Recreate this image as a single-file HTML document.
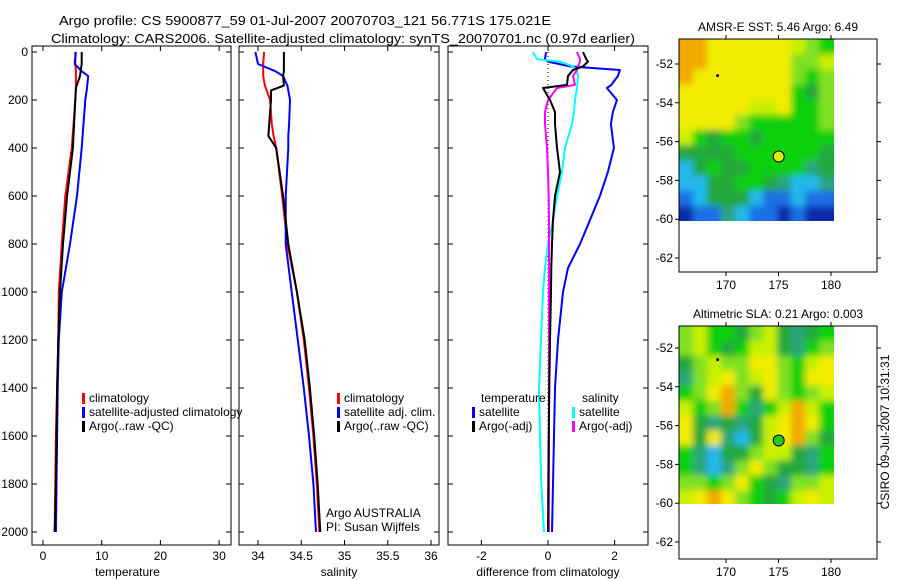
<!DOCTYPE html>
<html><head><meta charset="utf-8"><style>
html,body{margin:0;padding:0;background:#fff;}
svg{display:block;font-family:"Liberation Sans",sans-serif;}
</style></head><body>
<svg id="c" width="900" height="580" viewBox="0 0 900 580" xmlns="http://www.w3.org/2000/svg">
<defs>
<filter id="blur" x="-5%" y="-5%" width="110%" height="110%"><feGaussianBlur stdDeviation="3.5"/></filter>
<clipPath id="clip-sst-map"><rect x="679" y="39" width="155" height="182"/></clipPath>
<clipPath id="clip-sla-map"><rect x="679" y="326" width="155" height="178"/></clipPath>
</defs>
<text x="59" y="25" font-size="13" textLength="492" lengthAdjust="spacingAndGlyphs">Argo profile: CS 5900877_59 01-Jul-2007 20070703_121 56.771S 175.021E</text>
<text x="51" y="43" font-size="13" textLength="584" lengthAdjust="spacingAndGlyphs">Climatology: CARS2006. Satellite-adjusted climatology: synTS_20070701.nc (0.97d earlier)</text>
</svg>
<script>
// ---------- data ----------
const tDepth = [0,50,80,100,150,200,400,600,800,1000,1200,1400,1600,1800,2000];
const tClim  = [5.5,5.5,5.6,5.6,5.6,5.5,4.9,3.8,3.2,2.7,2.6,2.4,2.2,2.1,2.0];
const tSat   = [5.6,5.4,6.6,7.7,7.5,7.2,6.6,5.8,4.6,3.2,2.7,2.5,2.4,2.3,2.2];
const tArgo  = [6.6,6.6,6.4,6.3,5.6,5.5,5.1,4.1,3.4,2.9,2.6,2.4,2.3,2.2,2.0];

const sDepth = [0,50,80,100,140,160,200,300,350,400,600,800,1000,1200,1400,1600,1800,2000];
const sClim  = [34.07,34.06,34.06,34.06,34.08,34.10,34.14,34.16,34.18,34.21,34.28,34.34,34.45,34.53,34.59,34.64,34.68,34.71];
const sSat   = [33.97,34.00,34.20,34.29,34.34,34.35,34.37,34.36,34.35,34.35,34.32,34.32,34.39,34.46,34.53,34.59,34.64,34.67];
const sArgo  = [34.30,34.30,34.30,34.29,34.30,34.15,34.15,34.13,34.12,34.21,34.29,34.35,34.45,34.54,34.60,34.65,34.69,34.72];

const dDepth = [0,30,40,60,75,100,137,150,200,250,300,400,500,600,700,800,900,1000,1200,1400,1600,1800,2000];
const dTsat  = [-0.06,-0.09,0.0,0.66,2.16,2.10,1.90,1.77,2.07,1.95,1.89,1.98,1.80,1.56,1.26,0.96,0.60,0.45,0.30,0.21,0.18,0.15,0.12];
const dTargo = [1.05,1.15,1.20,1.05,0.75,0.60,0.57,-0.15,0.06,0.21,0.21,0.27,0.36,0.21,0.15,0.12,0.10,0.09,0.06,0.04,0.02,0.01,0.0];
const dSsat  = [-0.45,-0.33,0.36,0.75,0.85,0.90,0.88,0.87,0.81,0.78,0.72,0.51,0.42,0.27,0.15,0.0,-0.09,-0.15,-0.21,-0.27,-0.24,-0.20,-0.12];
const dSargo = [0.87,0.96,0.96,0.90,0.87,0.75,0.81,0.27,0.0,-0.09,-0.09,-0.03,0.0,0.02,0.03,0.03,0.03,0.03,0.03,0.03,0.03,0.03,0.03];

const depthTicks = [0,200,400,600,800,1000,1200,1400,1600,1800,2000];
const tTicks = [0,10,20,30];
const sTicks = [34,34.5,35,35.5,36];
const dTicks = [-2,0,2];
const latTicks = [-52,-54,-56,-58,-60,-62];
const lonTicks = [170,175,180];

const sstGrid = [
"99888888765","99888888667","98888888656","88888888546","88888778556","88886555556",
"75455455555","44445555554","24544555534","22445543223","12444211211","01132110100"];
const slaGrid = [
"67554674345","67545774356","46766886578","36786786588","56896486567","75695357975",
"84343478985","84832478964","53244677435","53236864435","66568543667","78986545787"];
const palette = ["#0a2aa8","#1a70e6","#20b8ec","#2aa67a","#22a83a","#10d010","#80e020","#c8f000","#f2ec00","#f2a800"];

// ---------- helpers ----------
const svg = document.getElementById('c');
const NS = "http://www.w3.org/2000/svg";
function mk(tag, attrs, parent){ const e=document.createElementNS(NS,tag); for(const k in attrs) e.setAttribute(k,attrs[k]); (parent||svg).appendChild(e); return e; }

const Y0=52, YK=0.24, TOP=46, BOT=545;
const yD = d => Y0 + d*YK;

function panel(name,x0,x1,xf,xticks,xlabel,showY){
  const r = mk('rect',{x:x0,y:TOP,width:x1-x0,height:BOT-TOP,fill:'none',stroke:'#000','stroke-width':1});
  
  
  depthTicks.forEach(d=>{
    const y=yD(d);
    const t=mk('path',{d:`M${x0} ${y}h5M${x1} ${y}h-5`,stroke:'#000'});
    
    
    if(showY){
      const l=mk('text',{x:28,y:y+4,'font-size':12,'text-anchor':'end'});
      l.textContent=d;
      
      
    }
  });
  xticks.forEach(v=>{
    const x=xf(v);
    const t=mk('path',{d:`M${x} ${BOT}v-5M${x} ${TOP}v5`,stroke:'#000'});
    
    
    const l=mk('text',{x:x,y:560,'font-size':12,'text-anchor':'middle'});
    l.textContent=v;
    
    
  });
  const xl=mk('text',{x:(x0+x1)/2-(name==='temperature-panel'?4:0),y:576,'font-size':12,'text-anchor':'middle'});
  xl.textContent=xlabel;
  
  
}
function line(name,depths,vals,xf,color,w){
  const pts=depths.map((d,i)=>`${xf(vals[i]).toFixed(1)},${yD(d).toFixed(1)}`).join(' ');
  const p=mk('polyline',{points:pts,fill:'none',stroke:color,'stroke-width':w||2,'stroke-linejoin':'round'});
  
  
}
function legend(name,x,y,color,text){
  const m=mk('rect',{x:x,y:y-9,width:3,height:11,fill:color});
  
  
  const t=mk('text',{x:x+7,y:y,'font-size':12});
  t.textContent=text;
  
  
}
function label(name,x,y,text,anchor){
  const t=mk('text',{x:x,y:y,'font-size':12,'text-anchor':anchor||'start'});
  t.textContent=text;
  
  
  return t;
}

// ---------- temperature panel ----------
const xT = v => 43 + v*5.87;
panel('temperature-panel',32,231,xT,tTicks,'temperature',true);
line('temp-climatology-line',tDepth,tClim,xT,'#ff0000');
line('temp-satellite-line',tDepth,tSat,xT,'#0000ff');
line('temp-argo-line',tDepth,tArgo,xT,'#000000');
legend('legend-temp-climatology',82,402,'#ff0000','climatology');
legend('legend-temp-satellite',82,416,'#0000ff','satellite-adjusted climatology');
legend('legend-temp-argo',82,430,'#000000','Argo(..raw -QC)');

// ---------- salinity panel ----------
const xS = v => 258 + (v-34)*86.5;
panel('salinity-panel',239,439,xS,sTicks,'salinity',false);
line('sal-climatology-line',sDepth,sClim,xS,'#ff0000');
line('sal-satellite-line',sDepth,sSat,xS,'#0000ff');
line('sal-argo-line',sDepth,sArgo,xS,'#000000');
legend('legend-sal-climatology',337,402,'#ff0000','climatology');
legend('legend-sal-satellite',337,416,'#0000ff','satellite adj. clim.');
legend('legend-sal-argo',337,430,'#000000','Argo(..raw -QC)');
label('argo-australia-label',326,517,'Argo AUSTRALIA');
label('pi-label',326,531,'PI: Susan Wijffels');

// ---------- difference panel ----------
const xDf = v => 548 + v*33.3;
panel('difference-panel',448,648,xDf,dTicks,'difference from climatology',false);
const zl=mk('line',{x1:xDf(0),y1:yD(0),x2:xDf(0),y2:yD(2000),stroke:'#000','stroke-dasharray':'1,3'});


line('diff-temp-satellite-line',dDepth,dTsat,xDf,'#0000ff');
line('diff-sal-satellite-line',dDepth,dSsat,xDf,'#00ffff');
line('diff-sal-argo-line',dDepth,dSargo,xDf,'#ff00ff');
line('diff-temp-argo-line',dDepth,dTargo,xDf,'#000000');
label('legend-temperature-header',481,402,'temperature');
label('legend-salinity-header',582,402,'salinity');
legend('legend-diff-temp-satellite',472,416,'#0000ff','satellite');
legend('legend-diff-temp-argo',472,430,'#000000','Argo(-adj)');
legend('legend-diff-sal-satellite',572,416,'#00ffff','satellite');
legend('legend-diff-sal-argo',572,430,'#ff00ff','Argo(-adj)');

// ---------- maps ----------
function map(name,top,grid,title,dotColor,yLat52){
  const bx0=679,bx1=877,bot=top+233;
  const lonX = v => 726 + (v-170)*10.5;
  const latY = v => yLat52 + (-52 - v)*19.4;
  const imgX0=679, imgX1=lonX(180.2), imgY0=top, imgY1=latY(-60.1);
  const rows=grid.length, cols=grid[0].length;
  const cw=(imgX1-imgX0)/cols, ch=(imgY1-imgY0)/rows;
  const outer=mk('g',{'clip-path':`url(#clip-${name})`});
  
  
  const g=mk('g',{filter:'url(#blur)'},outer);
  grid.forEach((row,r)=>{
    for(let c=0;c<cols;c++){
      const cell=mk('rect',{x:(imgX0+c*cw-(c===0?8:0)).toFixed(2),y:(imgY0+r*ch-(r===0?8:0)).toFixed(2),width:(cw+0.6+(c===0||c===cols-1?8:0)).toFixed(2),height:(ch+0.6+(r===0||r===rows-1?8:0)).toFixed(2),fill:palette[+row[c]]},g);
      
      
    }
  });
  const f=mk('rect',{x:bx0,y:top,width:bx1-bx0,height:bot-top,fill:'none',stroke:'#000'});
  
  
  latTicks.forEach(v=>{
    const y=latY(v);
    const t=mk('path',{d:`M${bx0} ${y}h-4M${bx1} ${y}h4`,stroke:'#000'});
    
    
    label(name+'-lat-label',bx0-6,y+4,v,'end');
  });
  lonTicks.forEach(v=>{
    const x=lonX(v);
    const t=mk('path',{d:`M${x} ${top}v-4M${x} ${bot}v4`,stroke:'#000'});
    
    
    label(name+'-lon-label',x,bot+17,v,'middle');
  });
  label(name+'-title',778,top-8,title,'middle');
  const sp=mk('circle',{cx:lonX(169.2),cy:latY(-52.6),r:1.5,fill:'#000'});
  
  
  const m=mk('circle',{cx:lonX(175.02),cy:latY(-56.77),r:5.5,fill:dotColor,stroke:'#000','stroke-width':1});
  
  
}
map('sst-map',39,sstGrid,'AMSR-E SST: 5.46 Argo: 6.49','#d8f000',64);
map('sla-map',326,slaGrid,'Altimetric SLA: 0.21 Argo: 0.003','#20c820',348);
const cs=label('csiro-timestamp',0,0,'CSIRO 09-Jul-2007 10:31:31','middle');
cs.setAttribute('transform','translate(889,432) rotate(-90)');
</script>
</body></html>
